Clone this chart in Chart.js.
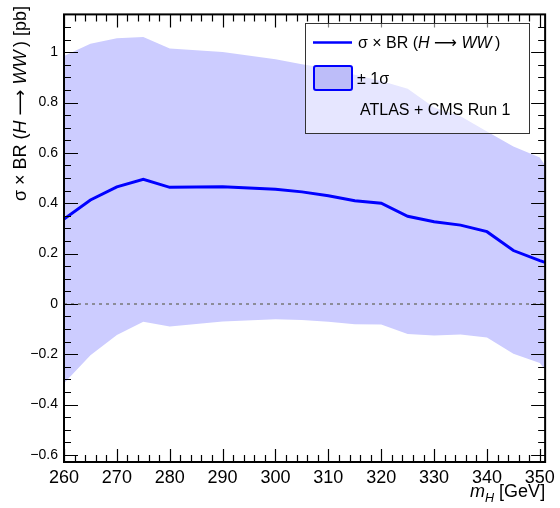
<!DOCTYPE html>
<html>
<head>
<meta charset="utf-8">
<script src="https://cdn.jsdelivr.net/npm/chart.js@4.4.1/dist/chart.umd.min.js"></script>
<style>
  html, body { margin: 0; padding: 0; background: #fff; }
  #wrap { width: 560px; height: 508px; }
</style>
</head>
<body>
<div id="wrap"><canvas id="c" width="560" height="508"></canvas></div>
<script>
// m_H points [GeV]
const massPoints = [260, 265, 270, 275, 280, 290, 300, 305, 310, 315, 320, 325, 330, 335, 340, 345, 350, 351];
// sigma x BR (H -> WW) [pb]
const xsCentral = [0.337, 0.413, 0.465, 0.495, 0.463, 0.465, 0.455, 0.445, 0.430, 0.410, 0.400, 0.348, 0.326, 0.313, 0.287, 0.212, 0.172, 0.165];
const xsUp = [0.985, 1.033, 1.055, 1.060, 1.015, 1.001, 0.972, 0.952, 0.935, 0.910, 0.885, 0.855, 0.780, 0.745, 0.685, 0.625, 0.582, 0.550];
const xsDown = [-0.315, -0.204, -0.124, -0.071, -0.090, -0.070, -0.061, -0.064, -0.071, -0.081, -0.082, -0.120, -0.126, -0.122, -0.133, -0.198, -0.235, -0.262];

const xTicks = [260, 270, 280, 290, 300, 310, 320, 330, 340, 350];
const yTicks = [-0.6, -0.4, -0.2, 0, 0.2, 0.4, 0.6, 0.8, 1];

const FONT = '"Liberation Sans", Arial, sans-serif';
const ARROW_FONT = '"DejaVu Sans", sans-serif';
const BLUE = '#0000ff';
const BAND = '#ccccff';

const pts = (ys) => massPoints.map((m, i) => ({ x: m, y: ys[i] }));

// draw a run of text pieces, normal / italic / subscript
function fontFor(p, size) {
    const s = p.sub ? size * 0.7 : size;
    return (p.it ? 'italic ' : '') + s + 'px ' + (p.f || FONT);
}
function drawRich(ctx, parts, x, y, size) {
    let cx = x;
    for (const p of parts) {
        ctx.font = fontFor(p, size);
        ctx.fillText(p.t, cx, y + (p.sub ? size * 0.28 : 0));
        cx += ctx.measureText(p.t).width;
    }
    return cx - x;
}
function richWidth(ctx, parts, size) {
    let w = 0;
    for (const p of parts) {
        ctx.font = fontFor(p, size);
        w += ctx.measureText(p.t).width;
    }
    return w;
}

const titleParts = [{ t: 'σ × BR (' }, { t: 'H', it: true }, { t: ' ' }, { t: '⟶', f: ARROW_FONT }, { t: ' ' }, { t: 'WW', it: true }, { t: '\u2009)' }];

const decor = {
    id: 'decor',
    afterDatasetsDraw(chart) {
        const { ctx, chartArea: a, scales: { x, y } } = chart;
        ctx.save();
        ctx.strokeStyle = '#000';
        ctx.lineWidth = 1.2;
        ctx.beginPath();
        // y ticks, left and right
        for (let k = -12; k <= 23; k++) {
            const py = Math.round(y.getPixelForValue(k * 0.05)) + 0.5;
            if (py < a.top || py > a.bottom) continue;
            const len = k % 4 === 0 ? 14 : 7;
            ctx.moveTo(a.left, py); ctx.lineTo(a.left + len, py);
            ctx.moveTo(a.right, py); ctx.lineTo(a.right - len, py);
        }
        // x ticks, bottom and top
        for (let m = 260; m <= 351; m += 2) {
            const px = Math.round(x.getPixelForValue(m)) + 0.5;
            const len = m % 10 === 0 ? 13 : 7;
            ctx.moveTo(px, a.bottom); ctx.lineTo(px, a.bottom - len);
            ctx.moveTo(px, a.top); ctx.lineTo(px, a.top + len);
        }
        ctx.stroke();
        ctx.lineWidth = 2;
        ctx.strokeRect(a.left, a.top, a.right - a.left, a.bottom - a.top);
        ctx.restore();
    },
    afterDraw(chart) {
        const { ctx, chartArea: a } = chart;
        ctx.save();
        ctx.fillStyle = '#000';
        ctx.textBaseline = 'alphabetic';

        // y axis title, aligned to the top
        const yParts = titleParts.concat([{ t: ' [pb]' }]);
        ctx.save();
        ctx.translate(26, 6);
        ctx.rotate(-Math.PI / 2);
        const yw = richWidth(ctx, yParts, 18);
        drawRich(ctx, yParts, -yw, 0, 18);
        ctx.restore();

        // x axis title, aligned to the right
        const xParts = [{ t: 'm', it: true }, { t: 'H', it: true, sub: true }, { t: ' [GeV]' }];
        const xw = richWidth(ctx, xParts, 18);
        drawRich(ctx, xParts, a.right - xw, 497, 18);

        // legend
        const L = { x: 305, y: 23, w: 224, h: 110 };
        ctx.fillStyle = 'rgba(255,255,255,0.5)';
        ctx.fillRect(L.x, L.y, L.w, L.h);
        ctx.strokeStyle = '#333';
        ctx.lineWidth = 1;
        ctx.strokeRect(L.x + 0.5, L.y + 0.5, L.w, L.h);

        ctx.strokeStyle = BLUE;
        ctx.lineWidth = 2.5;
        ctx.beginPath();
        ctx.moveTo(313, 42.5); ctx.lineTo(352, 42.5);
        ctx.stroke();

        ctx.fillStyle = '#bdbdf9';
        ctx.lineWidth = 2;
        ctx.beginPath();
        ctx.roundRect(314, 66, 38, 24, 2);
        ctx.fill();
        ctx.stroke();

        ctx.fillStyle = '#000';
        drawRich(ctx, titleParts, 358, 48, 16);
        drawRich(ctx, [{ t: '± 1σ' }], 357, 84, 16);
        drawRich(ctx, [{ t: 'ATLAS + CMS Run 1' }], 360, 115, 16);
        ctx.restore();
    }
};

new Chart(document.getElementById('c'), {
    type: 'line',
    data: {
        datasets: [
            {
                data: pts(xsCentral),
                borderColor: BLUE,
                borderWidth: 3,
                pointRadius: 0,
                fill: false,
                tension: 0
            },
            {
                data: [{ x: 260, y: 0 }, { x: 351, y: 0 }],
                borderColor: '#777',
                borderWidth: 1.5,
                borderDash: [3, 4],
                pointRadius: 0,
                fill: false
            },
            {
                data: pts(xsUp),
                borderWidth: 0,
                borderColor: 'rgba(0,0,0,0)',
                backgroundColor: BAND,
                pointRadius: 0,
                fill: '+1',
                tension: 0
            },
            {
                data: pts(xsDown),
                borderWidth: 0,
                borderColor: 'rgba(0,0,0,0)',
                pointRadius: 0,
                fill: false,
                tension: 0
            }
        ]
    },
    options: {
        responsive: false,
        animation: false,
        devicePixelRatio: 1,
        layout: { padding: { top: 6, right: 13, left: 0, bottom: 0 } },
        plugins: { legend: { display: false }, tooltip: { enabled: false } },
        scales: {
            x: {
                type: 'linear',
                min: 260,
                max: 351,
                grid: { display: false, drawTicks: false },
                border: { display: false },
                afterBuildTicks: s => { s.ticks = xTicks.map(v => ({ value: v })); },
                afterFit: s => { s.height = 46; },
                ticks: {
                    padding: 5,
                    color: '#000',
                    maxRotation: 0,
                    autoSkip: false,
                    font: { size: 18, family: FONT },
                    callback: v => String(v)
                }
            },
            y: {
                min: -0.628,
                max: 1.15,
                grid: { display: false, drawTicks: false },
                border: { display: false },
                afterBuildTicks: s => { s.ticks = yTicks.map(v => ({ value: v })); },
                afterFit: s => { s.width = 64; },
                ticks: {
                    padding: 6,
                    color: '#000',
                    autoSkip: false,
                    font: { size: 14, family: FONT },
                    callback: v => String(Math.round(v * 10) / 10).replace('-', '\u2212')
                }
            }
        }
    },
    plugins: [decor]
});
</script>
</body>
</html>
